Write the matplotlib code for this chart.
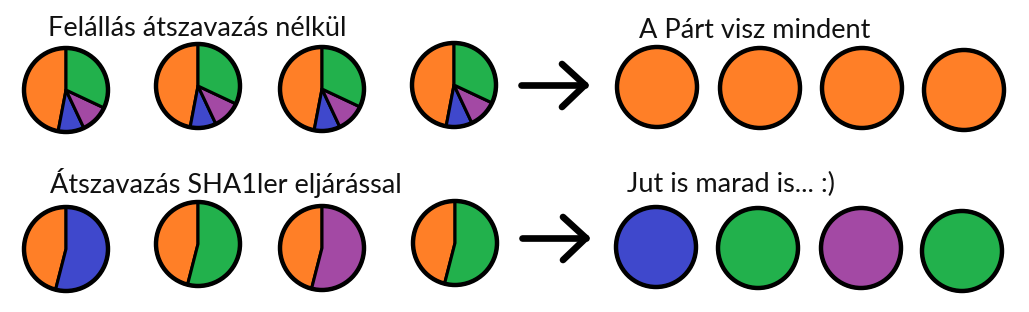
import matplotlib.pyplot as plt

# ── data ────────────────────────────────────────────────────────────────
party_colors = {
    'orange': '#FF7F27',
    'blue': '#3F48CC',
    'purple': '#A349A4',
    'green': '#22B14C',
}

# top row: vote split without tactical voting (orange, blue, purple, green)
top_labels = ['orange', 'blue', 'purple', 'green']
top_shares = [
    [47, 10, 11, 32],
    [47, 10, 11, 32],
    [47, 10, 11, 32],
    [47, 10, 11, 32],
]
top_winners = ['orange', 'orange', 'orange', 'orange']

# bottom row: orange vs. the single coordinated challenger
bottom_challengers = ['blue', 'green', 'purple', 'green']
bottom_orange = [46, 46, 46, 46]
bottom_other = [54, 54, 54, 54]
bottom_winners = ['blue', 'green', 'purple', 'green']

titles = {
    'top_left': 'Felállás átszavazás nélkül',
    'top_right': 'A Párt visz mindent',
    'bottom_left': 'Átszavazás SHA1ler eljárással',
    'bottom_right': 'Jut is marad is... :)',
}

# ── layout (pixel coordinates, y measured from top) ─────────────────────
W, H = 1029, 312
pie_r = 42
dot_r = 40
top_pie_pos = [(66, 90), (198, 86), (322, 89), (454, 85)]
bot_pie_pos = [(66, 249), (198, 244), (322, 248), (455, 243)]
top_dot_pos = [(657, 87), (760, 88), (862, 88), (964, 90)]
bot_dot_pos = [(656, 247), (758, 248), (861, 248), (962, 251)]

fig = plt.figure(figsize=(W / 100, H / 100), dpi=100)
ax = fig.add_axes([0, 0, 1, 1])
fig.patch.set_facecolor('white')

wedge_kw = dict(edgecolor='black', linewidth=2.2, joinstyle='round')


def draw_pie(values, colors, x, y, r):
    ax.pie(values, colors=colors, startangle=90, counterclock=True,
           center=(x, H - y), radius=r, frame=True, wedgeprops=wedge_kw)
    circ = plt.Circle((x, H - y), r, fill=False, edgecolor='black', linewidth=3.2, zorder=5)
    ax.add_patch(circ)


for shares, (x, y) in zip(top_shares, top_pie_pos):
    draw_pie(shares, [party_colors[c] for c in top_labels], x, y, pie_r)

for o, other, ch, (x, y) in zip(bottom_orange, bottom_other, bottom_challengers, bot_pie_pos):
    draw_pie([o, other], [party_colors['orange'], party_colors[ch]], x, y, pie_r)

for w, (x, y) in zip(top_winners, top_dot_pos):
    draw_pie([1], [party_colors[w]], x, y, dot_r)

for w, (x, y) in zip(bottom_winners, bot_dot_pos):
    draw_pie([1], [party_colors[w]], x, y, dot_r)


def draw_arrow(x0, x1, y):
    arrow_kw = dict(color='black', linewidth=4.8, solid_capstyle='round')
    ax.plot([x0, x1], [H - y, H - y], **arrow_kw)
    ax.plot([x1 - 23, x1], [H - y + 21, H - y], **arrow_kw)
    ax.plot([x1 - 23, x1], [H - y - 22, H - y], **arrow_kw)


draw_arrow(521, 585, 85)
draw_arrow(522, 586, 238)

text_kw = dict(fontsize=19.5, family=['Lato', 'DejaVu Sans'], color='#111111', va='baseline', ha='left')
ax.text(48, H - 36, titles['top_left'], **text_kw)
ax.text(639, H - 38, titles['top_right'], **text_kw)
ax.text(50, H - 193, titles['bottom_left'], **text_kw)
ax.text(627, H - 192, titles['bottom_right'], **text_kw)

ax.set_xlim(0, W)
ax.set_ylim(0, H)
ax.set_aspect('equal')
ax.axis('off')

fig.savefig('out.png', dpi=100, facecolor='white')
